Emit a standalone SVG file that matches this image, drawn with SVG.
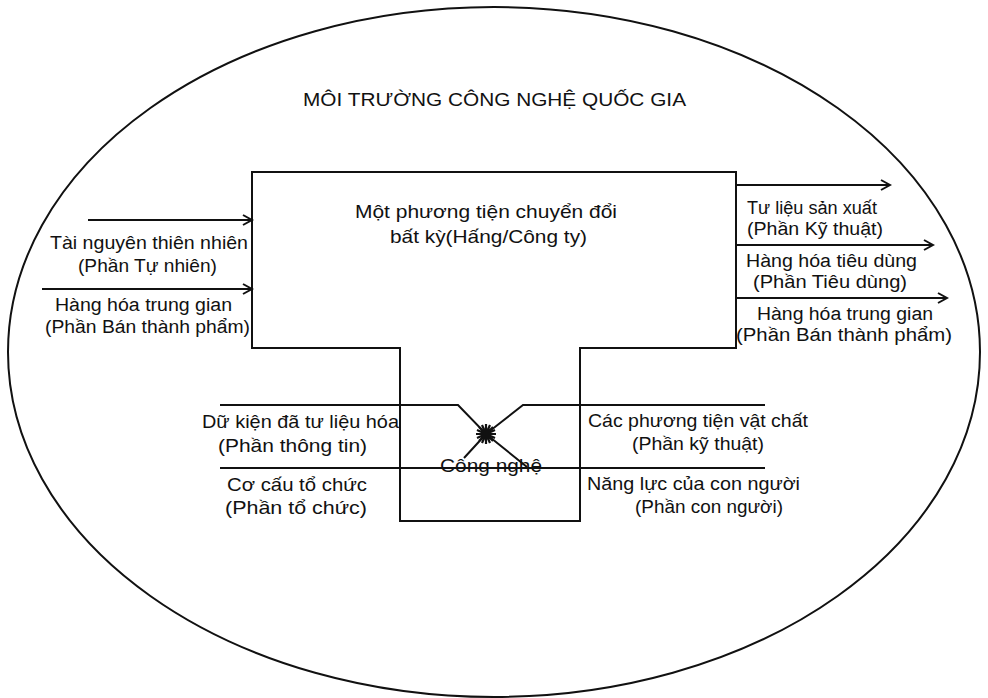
<svg xmlns="http://www.w3.org/2000/svg" width="988" height="698" viewBox="0 0 988 698">
<style>
  text { font-family: "Liberation Sans", Arial, sans-serif; font-size: 19px; fill: #111; }
  .sm { font-size: 18px; }
  .ln { fill: none; stroke: #111; stroke-width: 2; }
  .arr { fill: none; stroke: #111; stroke-width: 2; marker-end: url(#ah); }
</style>
<defs>
  <marker id="ah" markerUnits="userSpaceOnUse" markerWidth="14" markerHeight="14" viewBox="0 0 14 14" refX="12" refY="7" orient="auto">
    <path d="M3,2 L12,7 L3,12" fill="none" stroke="#111" stroke-width="2"/>
  </marker>
</defs>
<rect width="988" height="698" fill="#fff"/>

<g id="environment">
  <ellipse cx="494" cy="352" rx="486" ry="345" class="ln"/>
  <text x="303" y="106" textLength="383" lengthAdjust="spacingAndGlyphs">MÔI TRƯỜNG CÔNG NGHỆ QUỐC GIA</text>
</g>

<g id="firm">
  <path class="ln" d="M252,172 H736 V348 H580 V521 H400 V348 H252 Z"/>
  <text x="355" y="218" textLength="262" lengthAdjust="spacingAndGlyphs">Một phương tiện chuyển đổi</text>
  <text x="390" y="243" textLength="197" lengthAdjust="spacingAndGlyphs">bất kỳ(Hấng/Công ty)</text>
</g>

<g id="technology">
  <path class="ln" d="M220,405 H458 L486,434 L523,405 H765"/>
  <path class="ln" d="M220,468 H765"/>
  <path class="ln" d="M486,434 L464,458 M486,434 L527,467"/>
  <path d="M476,434 H496 M486,424 V444 M479,427 L493,441 M493,427 L479,441 M477,430 L495,438 M477,438 L495,430 M482,425 L490,443 M490,425 L482,443" stroke="#111" stroke-width="2.2" fill="none"/>
  <text x="440" y="472" textLength="102" lengthAdjust="spacingAndGlyphs">Công nghệ</text>
</g>

<g id="info">
  <text x="202" y="428" textLength="197" lengthAdjust="spacingAndGlyphs">Dữ kiện đã tư liệu hóa</text>
  <text x="218" y="452" textLength="149" lengthAdjust="spacingAndGlyphs">(Phần thông tin)</text>
</g>
<g id="orgware">
  <text x="227" y="491" textLength="140" lengthAdjust="spacingAndGlyphs">Cơ cấu tổ chức</text>
  <text x="225" y="514" textLength="142" lengthAdjust="spacingAndGlyphs">(Phần tổ chức)</text>
</g>
<g id="technoware">
  <text x="588" y="427" textLength="220" lengthAdjust="spacingAndGlyphs">Các phương tiện vật chất</text>
  <text x="632" y="450" textLength="132" lengthAdjust="spacingAndGlyphs">(Phần kỹ thuật)</text>
</g>
<g id="humanware">
  <text x="587" y="490" textLength="213" lengthAdjust="spacingAndGlyphs">Năng lực của con người</text>
  <text x="635" y="513" textLength="148" lengthAdjust="spacingAndGlyphs">(Phần con người)</text>
</g>

<g id="input-natural">
  <text x="50" y="249" textLength="198" lengthAdjust="spacingAndGlyphs">Tài nguyên thiên nhiên</text>
  <text x="78" y="272" textLength="139" lengthAdjust="spacingAndGlyphs">(Phần Tự nhiên)</text>
</g>
<g id="input-intermediate">
  <text class="sm" x="55" y="311" textLength="177" lengthAdjust="spacingAndGlyphs">Hàng hóa trung gian</text>
  <text class="sm" x="45" y="333" textLength="205" lengthAdjust="spacingAndGlyphs">(Phần Bán thành phẩm)</text>
</g>
<g id="output-capital">
  <text class="sm" x="747" y="214" textLength="130" lengthAdjust="spacingAndGlyphs">Tư liệu sản xuất</text>
  <text class="sm" x="747" y="235" textLength="136" lengthAdjust="spacingAndGlyphs">(Phần Kỹ thuật)</text>
</g>
<g id="output-consumer">
  <text class="sm" x="746" y="267" textLength="171" lengthAdjust="spacingAndGlyphs">Hàng hóa tiêu dùng</text>
  <text class="sm" x="753" y="288" textLength="154" lengthAdjust="spacingAndGlyphs">(Phần Tiêu dùng)</text>
</g>
<g id="output-intermediate">
  <text class="sm" x="757" y="320" textLength="176" lengthAdjust="spacingAndGlyphs">Hàng hóa trung gian</text>
  <text class="sm" x="736" y="341" textLength="216" lengthAdjust="spacingAndGlyphs">(Phần Bán thành phẩm)</text>
</g>

<g id="connectors">
  <line class="arr" x1="88" y1="220" x2="252" y2="220"/>
  <line class="arr" x1="42" y1="289" x2="252" y2="289"/>
  <line class="arr" x1="736" y1="185" x2="890" y2="185"/>
  <line class="arr" x1="736" y1="245" x2="933" y2="245"/>
  <line class="arr" x1="736" y1="298" x2="947" y2="298"/>
</g>
</svg>
